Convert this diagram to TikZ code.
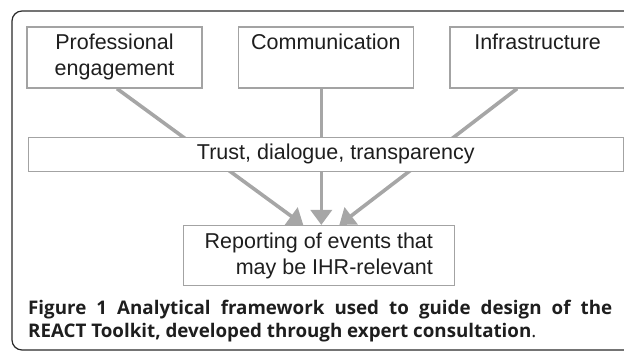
\documentclass[tikz,border=0pt]{standalone}
\usepackage{fontspec}
\setmainfont{Liberation Sans}
\newfontfamily\capfont{Open Sans}
\usepackage{tikz}
\usetikzlibrary{positioning,arrows.meta,backgrounds}
\definecolor{linegray}{HTML}{A6A6A6}
\definecolor{boxgray}{HTML}{A3A3A3}
\definecolor{textgray}{HTML}{1E1E1E}
\definecolor{framegray}{HTML}{2A2A2A}
\tikzset{
  box/.style={draw=boxgray,line width=1.3pt,fill=white,text=textgray,inner sep=0pt,
    font=\fontsize{21.5}{26}\selectfont},
  topbox/.style={box,minimum width=175pt,minimum height=61pt,align=center},
  link/.style={draw=linegray,line width=3.6pt},
  arr/.style={link,-{Triangle[length=15pt,width=21pt]}}
}
\begin{document}
\begin{tikzpicture}[x=1pt,y=-1pt]
    \useasboundingbox (0,0) rectangle (624,352);
    \clip (0,0) rectangle (624,352);
    \draw[framegray,line width=1.2pt,rounded corners=10pt] (12,11) rectangle (650,350);
    \node[topbox] (pe) at (114.5,57.5) {\strut Professional\\engagement\strut};
    \node[topbox,right=35pt of pe] (com) {\strut Communication\\\strut};
    \node[topbox,right=35.5pt of com] (inf) {\strut Infrastructure\\\strut};
    \node[box,below=48pt of com,minimum width=595pt,minimum height=34pt] (trust) {\hspace*{20pt}Trust, dialogue, transparency};
    \node[box,below=53pt of trust,xshift=-7pt,minimum width=271pt,minimum height=60pt,align=right] (rep) {Reporting of events that\\may be IHR-relevant};
    \node[anchor=base west,align=left,text=textgray,inner sep=0pt,
      font=\capfont\fontsize{18.75}{23}\selectfont] (cap) at (28,338)
      {\makebox[584pt][s]{\textbf{Figure 1 Analytical framework used to guide design of the}}\\
       \textbf{REACT Toolkit, developed through expert consultation}.};
    % connectors run behind the trust box
    \coordinate (s1) at ([xshift=2.5pt]pe.south);
    \coordinate (s2) at ([xshift=-4.5pt]com.south);
    \coordinate (s3) at ([xshift=-20.5pt]inf.south);
    \coordinate (t1) at ([xshift=-15.5pt]rep.north);
    \coordinate (t2) at ([xshift=2.5pt]rep.north);
    \coordinate (t3) at ([xshift=20.5pt]rep.north);
    \begin{scope}[on background layer]
      \draw[arr] (s1) -- (t1);
      \draw[arr] (s2) -- (t2);
      \draw[arr] (s3) -- (t3);
    \end{scope}
\end{tikzpicture}
\end{document}
